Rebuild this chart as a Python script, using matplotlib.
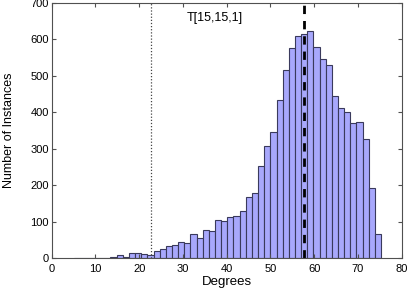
import numpy as np
import matplotlib.pyplot as plt

plt.rcParams['font.family'] = ['Liberation Sans', 'DejaVu Sans']

# histogram of angles, 50 bins
bin_lo, bin_hi, n_bins = 5.0, 75.3, 50
counts = [2, 0, 1, 2, 0, 2, 3, 8, 3, 15,
          15, 12, 9, 19, 25, 34, 36, 44, 41, 66,
          55, 78, 75, 105, 103, 114, 116, 131, 168, 180,
          253, 309, 346, 433, 517, 575, 609, 615, 622, 580,
          545, 529, 444, 412, 400, 370, 372, 326, 194, 67]
threshold = 22.7
mean_angle = 57.7
label = 'T[15,15,1]'

edges = np.linspace(bin_lo, bin_hi, n_bins + 1)

fig = plt.figure(figsize=(4.09, 2.90), dpi=100)
ax = fig.add_axes([0.1264, 0.109, 0.8556, 0.8818])

ax.bar(edges[:-1], counts, width=np.diff(edges), align='edge',
       color='#a8a8fc', edgecolor='#3a3a5c', linewidth=0.8)
ax.axvline(threshold, color='#444444', linestyle=(0, (1, 1.5)), linewidth=0.9)
ax.axvline(mean_angle, color='black', linestyle=(0, (3, 2.5)), linewidth=2)
ax.text(30.9, 658, label, fontsize=9, va='center', ha='left')

ax.set_xlim(0, 80)
ax.set_ylim(0, 700)
ax.set_xticks(np.arange(0, 81, 10))
ax.set_yticks(np.arange(0, 701, 100))
for sp in ax.spines.values():
    sp.set_color('#505050')
ax.tick_params(direction='in', top=True, right=True, labelsize=8, length=3,
               color='#505050')
ax.tick_params(axis='x', pad=4)
ax.tick_params(axis='y', pad=2)
ax.set_xlabel('Degrees', fontsize=9.5, labelpad=1.5)
ax.set_ylabel('Number of Instances', fontsize=9, labelpad=11)

fig.savefig('out.png', dpi=100)
